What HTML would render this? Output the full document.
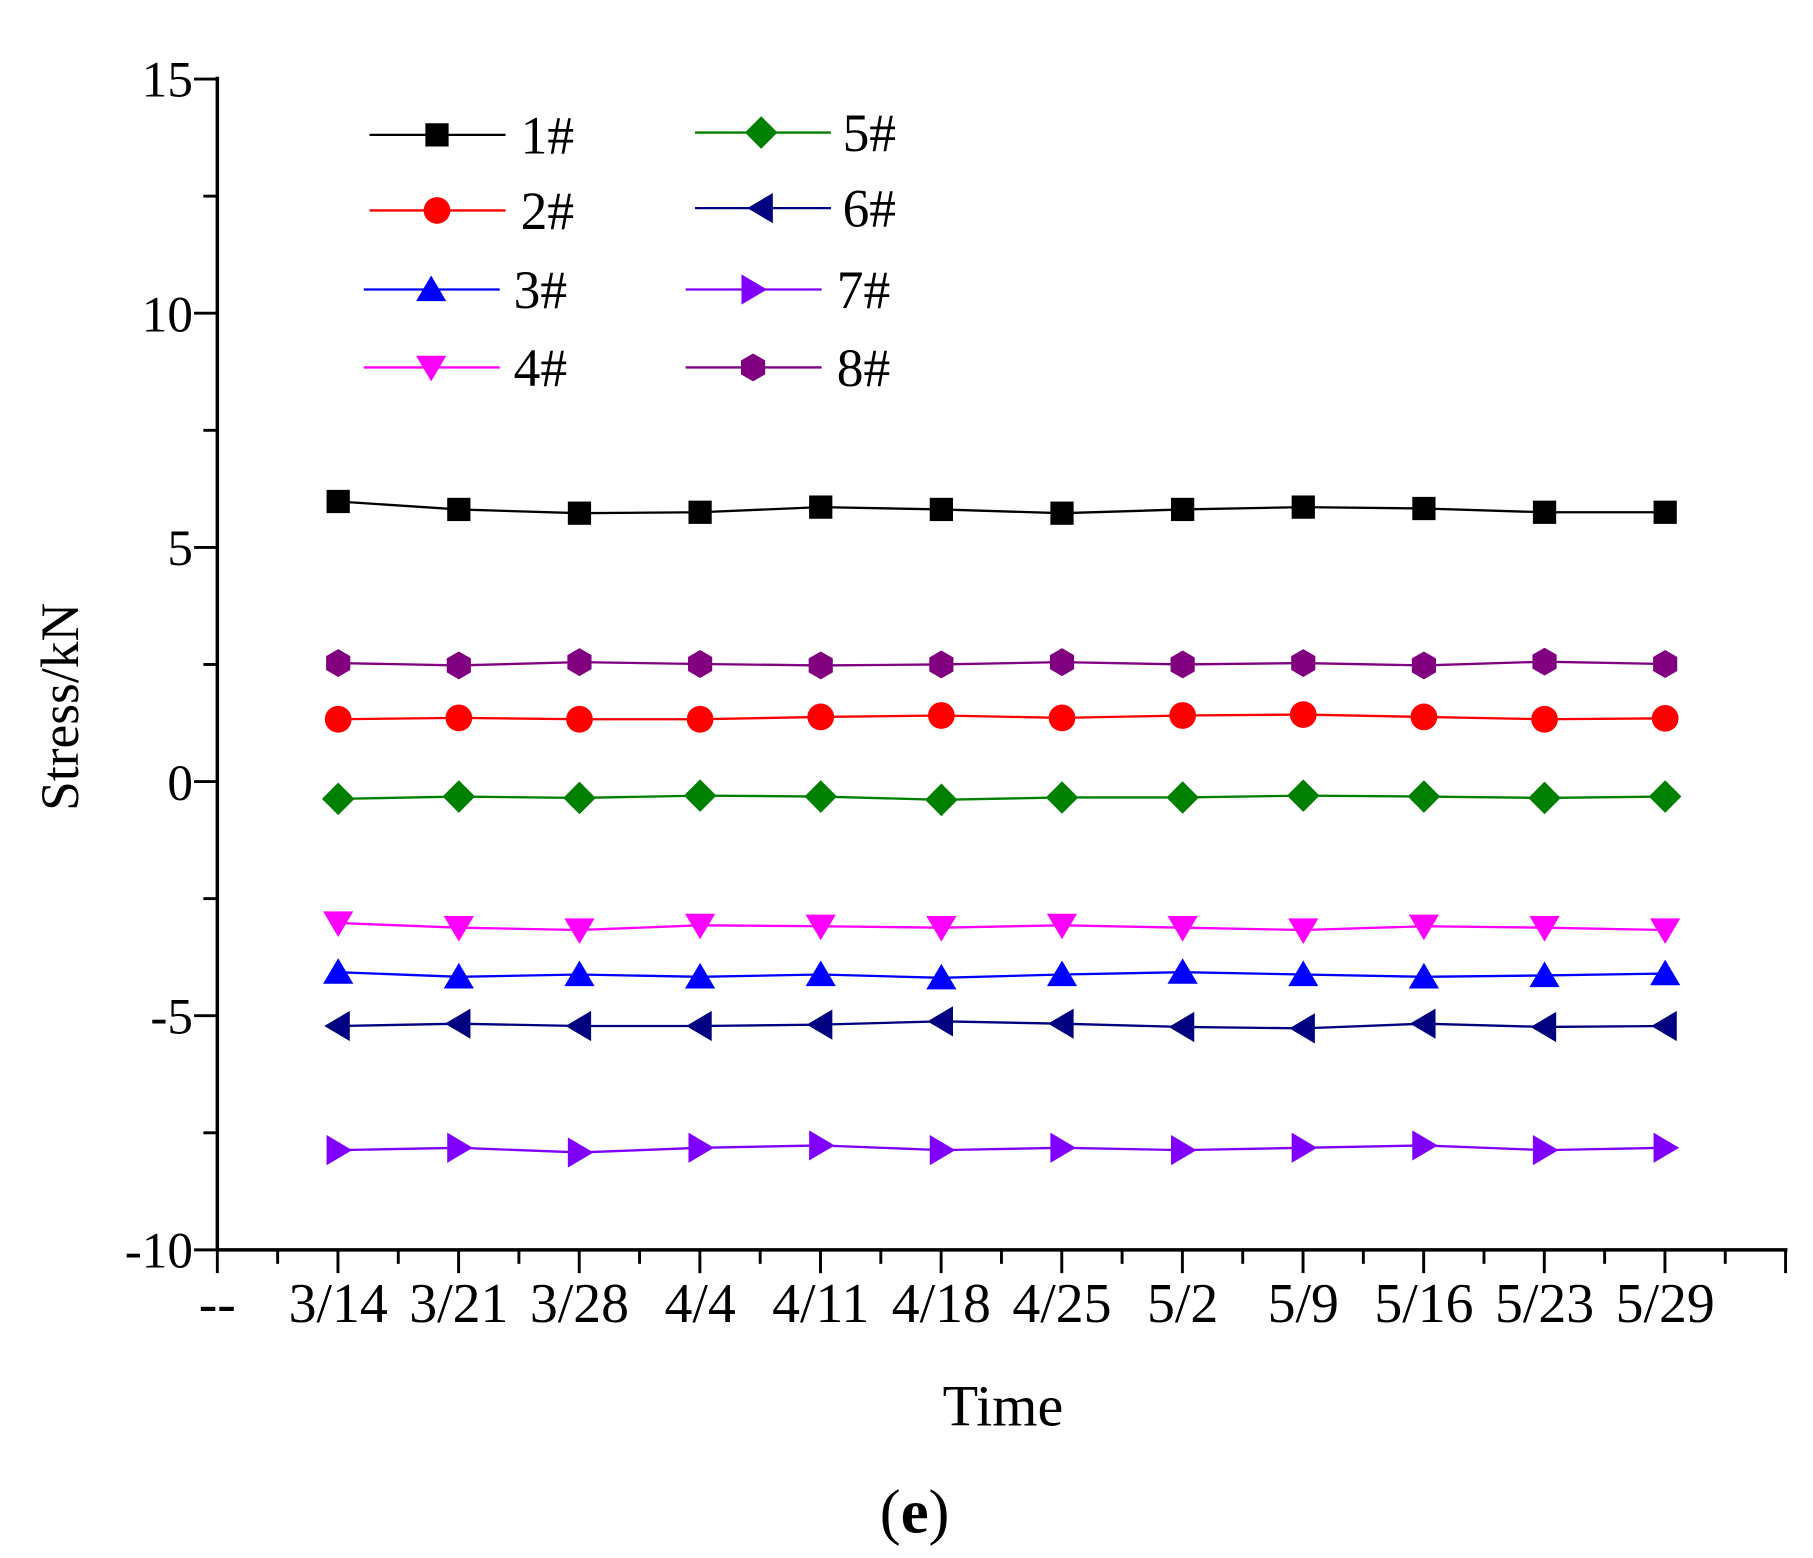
<!DOCTYPE html>
<html><head><meta charset="utf-8"><style>html,body{margin:0;padding:0;background:#fff}svg{display:block}</style></head>
<body>
<svg id="s" width="1813" height="1558" viewBox="0 0 1560 1340" preserveAspectRatio="none" xmlns="http://www.w3.org/2000/svg" font-family="'Liberation Serif', serif">
<g stroke="#000" stroke-width="3" fill="none">
<line x1="187" y1="66" x2="187" y2="1076"/>
<line x1="186" y1="1075" x2="1538" y2="1075"/>
</g>
<g id="ticks" stroke="#000" stroke-width="2.5"></g>
<g font-size="44" text-anchor="end">
<text x="166" y="83">15</text><text x="166" y="285">10</text><text x="166" y="486">5</text>
<text x="166" y="688">0</text><text x="166" y="889">-5</text><text x="166" y="1090">-10</text>
</g>
<g font-size="48" text-anchor="middle" id="xl">
<text x="187" y="1137">--</text>
</g>
<text transform="translate(67,608) rotate(-90)" font-size="46" text-anchor="middle">Stress/kN</text>
<text x="863" y="1226" font-size="50" text-anchor="middle">Time</text>
<text x="787" y="1318" font-size="54" text-anchor="middle">(<tspan font-weight="bold">e</tspan>)</text>
<g id="data"></g>
<g id="leg" font-size="46"></g>
</svg>
<script>
var NS="http://www.w3.org/2000/svg";
function el(p,t,a,txt){var e=document.createElementNS(NS,t);for(var k in a)e.setAttribute(k,a[k]);if(txt)e.textContent=txt;p.appendChild(e);return e;}
var tk=document.getElementById('ticks');
for(var i=0;i<=10;i++){var y=68+i*100.7;el(tk,'line',{x1:i%2?175:167,y1:y,x2:187,y2:y});}
for(var i=0;i<=26;i++){var x=187+i*51.9;el(tk,'line',{x1:x,y1:1075,x2:x,y2:i%2?1087:1095});}
var labs=["3/14","3/21","3/28","4/4","4/11","4/18","4/25","5/2","5/9","5/16","5/23","5/29"];
var xl=document.getElementById('xl');
labs.forEach(function(l,i){el(xl,'text',{x:291+i*103.8,y:1137},l);});
function X(i){return 291+i*103.8;} function Y(v){return 673-v*40.28;}
function marker(p,type,cx,cy,c){
 if(type=='sq')el(p,'rect',{x:cx-10,y:cy-10,width:20,height:20,fill:c});
 else if(type=='ci')el(p,'circle',{cx:cx,cy:cy,r:11.5,fill:c});
 else if(type=='up')el(p,'polygon',{points:(cx)+','+(cy-12)+' '+(cx-13)+','+(cy+10)+' '+(cx+13)+','+(cy+10),fill:c});
 else if(type=='dn')el(p,'polygon',{points:(cx)+','+(cy+12)+' '+(cx-13)+','+(cy-10)+' '+(cx+13)+','+(cy-10),fill:c});
 else if(type=='di')el(p,'polygon',{points:cx+','+(cy-14)+' '+(cx+14)+','+cy+' '+cx+','+(cy+14)+' '+(cx-14)+','+cy,fill:c});
 else if(type=='lt')el(p,'polygon',{points:(cx-12)+','+cy+' '+(cx+10)+','+(cy-13)+' '+(cx+10)+','+(cy+13),fill:c});
 else if(type=='rt')el(p,'polygon',{points:(cx+12)+','+cy+' '+(cx-10)+','+(cy-13)+' '+(cx-10)+','+(cy+13),fill:c});
 else if(type=='hx'){var pts=[];for(var k=0;k<6;k++){var a=Math.PI/6+k*Math.PI/3;pts.push((cx+12*Math.cos(a))+','+(cy+12*Math.sin(a)));}el(p,'polygon',{points:pts.join(' '),fill:c});}
}
var S=[
["1#","#000","sq",[6.0,5.83,5.75,5.77,5.88,5.83,5.75,5.83,5.88,5.85,5.77,5.77]],
["2#","#ff0000","ci",[1.35,1.38,1.35,1.35,1.4,1.43,1.38,1.43,1.45,1.4,1.35,1.37]],
["3#","#0000ff","up",[-4.05,-4.15,-4.1,-4.15,-4.1,-4.17,-4.1,-4.05,-4.1,-4.15,-4.12,-4.08]],
["4#","#ff00ff","dn",[-3.0,-3.1,-3.15,-3.05,-3.07,-3.1,-3.05,-3.1,-3.15,-3.07,-3.1,-3.15]],
["5#","#008000","di",[-0.35,-0.3,-0.33,-0.28,-0.3,-0.37,-0.32,-0.32,-0.28,-0.3,-0.33,-0.3]],
["6#","#000080","lt",[-5.2,-5.15,-5.2,-5.2,-5.17,-5.1,-5.15,-5.22,-5.25,-5.15,-5.22,-5.2]],
["7#","#8000ff","rt",[-7.85,-7.8,-7.9,-7.8,-7.75,-7.85,-7.8,-7.85,-7.8,-7.75,-7.85,-7.8]],
["8#","#800080","hx",[2.55,2.5,2.57,2.53,2.5,2.52,2.57,2.52,2.55,2.5,2.58,2.53]]];
var d=document.getElementById('data');
S.forEach(function(s){var pts=s[3].map(function(v,i){return X(i)+','+Y(v);}).join(' ');
 el(d,'polyline',{points:pts,fill:'none',stroke:s[1],'stroke-width':2});
 s[3].forEach(function(v,i){marker(d,s[2],X(i),Y(v),s[1]);});});
var L=document.getElementById('leg');
var pos=[[318,376,448,116],[318,376,448,181],[313,371,442,249],[313,371,442,316],
[598,655,725,114],[598,655,725,179],[590,648,720,249],[590,648,720,316]];
S.forEach(function(s,i){var p=pos[i];
 el(L,'line',{x1:p[0],y1:p[3],x2:p[0]+117,y2:p[3],stroke:s[1],'stroke-width':2});
 marker(L,s[2],p[1],p[3],s[1]);
 el(L,'text',{x:p[2],y:p[3]+16},s[0]);});
</script>
</body></html>
